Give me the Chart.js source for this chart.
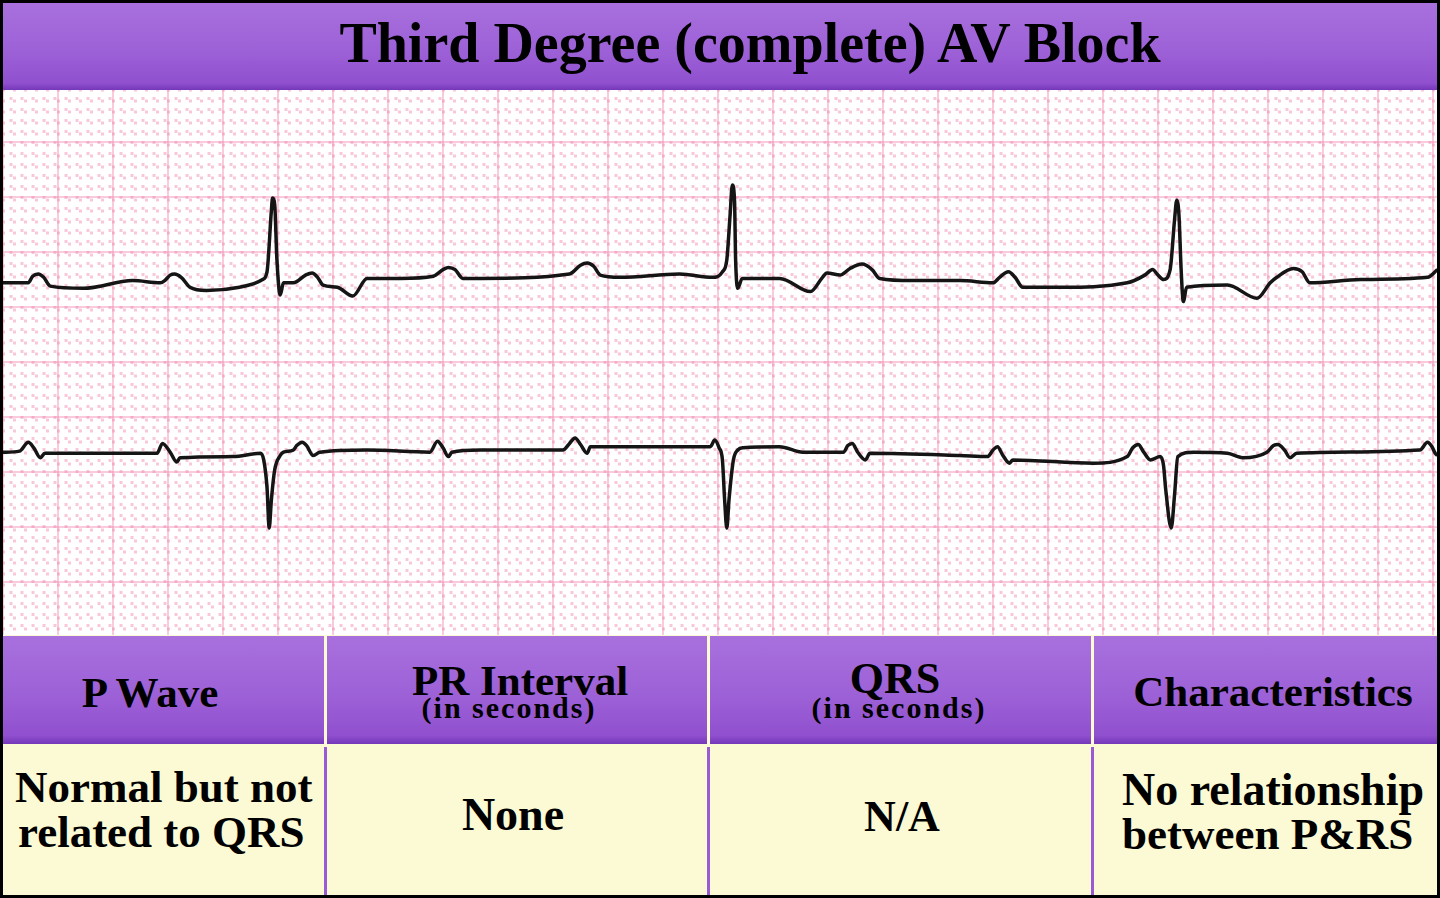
<!DOCTYPE html>
<html>
<head>
<meta charset="utf-8">
<script src="https://cdn.jsdelivr.net/npm/chart.js@4.4.1/dist/chart.umd.min.js"></script>
<style>
  html, body { margin:0; padding:0; }
  body { width:1440px; height:898px; background:#000; position:relative; overflow:hidden;
         font-family:"Liberation Serif", "Times New Roman", serif; font-weight:bold; color:#000; }
  .band { position:absolute; background:linear-gradient(to bottom, #a870dd 0%, #9d61d7 55%, #9050cf 92%, #7538b9 100%); }
  .cream { position:absolute; background:#fcfad4; }
  .txt { position:absolute; white-space:nowrap; line-height:1; }
  #strip { position:absolute; left:3px; top:90px; background:#fff; }
</style>
</head>
<body>
<div class="band" style="left:3px;top:3px;width:1434px;height:87px;"></div>
<div class="txt" style="left:3px;width:1434px;text-align:center;top:15px;font-size:56px;padding-left:60px;box-sizing:border-box;">Third Degree (complete) AV Block</div>

<canvas id="strip" width="1434" height="545"></canvas>

<!-- table -->
<div class="cream" style="left:3px;top:635px;width:1434px;height:260px;"></div>
<div class="band" style="left:3px;top:636px;width:321px;height:108px;"></div>
<div class="band" style="left:327px;top:636px;width:380px;height:108px;"></div>
<div class="band" style="left:710px;top:636px;width:381px;height:108px;"></div>
<div class="band" style="left:1094px;top:636px;width:343px;height:108px;"></div>
<div style="position:absolute;left:324px;top:747px;width:3px;height:148px;background:#9a5ad3;"></div>
<div style="position:absolute;left:707px;top:747px;width:3px;height:148px;background:#9a5ad3;"></div>
<div style="position:absolute;left:1091px;top:747px;width:3px;height:148px;background:#9a5ad3;"></div>

<div class="txt" style="left:50px;width:200px;text-align:center;top:671px;font-size:43px;">P Wave</div>
<div class="txt" style="left:412px;width:200px;text-align:center;top:659px;font-size:43px;">PR Interval</div>
<div class="txt" style="left:409px;width:200px;text-align:center;top:693px;font-size:30px;letter-spacing:2px;">(in seconds)</div>
<div class="txt" style="left:795px;width:200px;text-align:center;top:657px;font-size:44px;">QRS</div>
<div class="txt" style="left:799px;width:200px;text-align:center;top:693px;font-size:30px;letter-spacing:2px;">(in seconds)</div>
<div class="txt" style="left:1123px;width:300px;text-align:center;top:670px;font-size:43px;">Characteristics</div>

<div class="txt" style="left:15px;top:765px;font-size:45px;">Normal but not</div>
<div class="txt" style="left:18px;top:810px;font-size:45px;">related to QRS</div>
<div class="txt" style="left:413px;width:200px;text-align:center;top:792px;font-size:46px;">None</div>
<div class="txt" style="left:802px;width:200px;text-align:center;top:795px;font-size:44px;">N/A</div>
<div class="txt" style="left:1122px;top:767px;font-size:46px;">No relationship</div>
<div class="txt" style="left:1122px;top:812px;font-size:45px;">between P&amp;RS</div>

<script>
// ECG paper units: x = mm along the strip (25 mm/s), y = mm up the paper (10 mm/mV)
const paperLeft = 0, paperRight = 130.36;
const paperBottom = -4.82, paperTop = 44.73;

// upper lead: upright QRS, inverted T
const upperLead = [
  [0,27.2],[2.3,27.2],[2.7,27.8],[3.2,28.0],[3.7,27.7],[4.3,26.9],[7.3,26.7],[11.8,27.4],
  [14.3,27.2],[14.7,27.4],[15.2,27.9],[15.6,28.0],[16.2,27.7],[17.0,26.8],[18.5,26.5],[21.5,26.8],
  [23.6,27.5],[24.0,28.2],[24.4,33.8],[24.5,34.9],[24.7,34.3],[24.9,29.3],[25.2,26.1],[25.5,27.2],
  [26.4,27.2],[27.5,27.9],[28.1,28.1],[28.6,27.7],[29.1,27.0],[30.4,26.8],[31.8,26.0],[33.1,27.6],
  [36.1,27.6],[39.1,27.8],[40.0,28.4],[40.5,28.6],[41.1,28.4],[41.8,27.6],[43.4,27.6],
  [51.5,28.0],[52.5,28.8],[53.1,29.0],[53.7,28.7],[54.3,27.9],[56.1,27.7],[61.5,28.0],[64.5,27.7],
  [65.4,28.2],[65.8,29.3],[66.1,33.4],[66.3,36.1],[66.5,34.7],[66.6,29.3],[66.8,26.7],[67.2,27.6],
  [70.6,27.6],[73.4,26.4],[74.5,27.7],[74.9,28.1],[76.1,27.9],[77.0,28.5],[78.1,28.9],[79.0,28.4],
  [79.7,27.6],[82.7,27.4],[87.0,27.4],[90.0,27.2],[90.6,27.7],[91.4,28.2],[92.0,27.7],[92.7,26.8],
  [96.1,26.8],[102.2,27.2],[103.8,27.9],[104.5,28.4],[105.0,27.9],[105.5,27.5],[106.1,28.4],
  [106.5,32.9],[106.7,34.7],[106.9,33.4],[107.1,28.4],[107.3,25.5],[107.6,26.8],[111.3,27.0],
  [114.0,25.8],[115.2,27.2],[115.8,27.7],[117.3,28.5],[118.1,28.2],[118.8,27.2],[123.4,27.5],
  [129.5,27.7],[130.4,28.4]
];

// lower lead: negative QRS
const lowerLead = [
  [0,11.8],[1.5,11.9],[2.3,12.7],[2.8,12.2],[3.4,11.3],[3.8,11.7],[8.8,11.7],[14.0,11.7],
  [14.5,12.6],[15.2,11.8],[15.8,10.9],[16.1,11.3],[20.9,11.4],[23.4,11.7],[23.7,11.1],[24.0,8.6],
  [24.2,4.9],[24.4,7.5],[24.7,10.2],[25.2,11.5],[25.5,11.8],[26.4,12.0],[26.7,12.4],[27.2,12.7],
  [27.6,12.4],[28.2,11.5],[28.8,11.8],[33.1,12.0],[38.8,11.8],[39.5,12.8],[40.0,12.2],[40.5,11.4],
  [40.8,11.8],[43.4,12.0],[50.9,12.0],[51.5,12.6],[52.0,13.1],[52.5,12.5],[53.1,11.7],[53.4,12.3],
  [64.3,12.3],[64.7,12.9],[65.1,12.2],[65.4,11.1],[65.6,7.5],[65.8,4.9],[66.0,7.5],[66.4,11.1],
  [66.8,12.0],[67.3,12.2],[70.6,12.3],[72.7,11.8],[76.4,11.8],[76.8,12.4],[77.2,12.6],[77.7,11.8],
  [78.4,11.1],[78.8,11.7],[87.0,11.5],[89.5,11.4],[90.0,12.0],[90.4,12.3],[90.9,11.5],[91.5,10.8],
  [91.8,11.1],[99.1,10.8],[102.2,11.4],[102.7,12.2],[103.2,12.5],[103.7,11.8],[104.3,11.1],
  [105.2,11.4],[105.5,10.6],[105.7,8.4],[106.2,4.9],[106.5,7.9],[106.8,11.4],[108.2,11.8],
  [111.3,11.7],[112.7,11.3],[114.9,11.8],[115.5,12.4],[115.9,12.5],[116.5,12.0],[117.0,11.3],
  [117.6,11.7],[128.8,12.0],[129.5,12.7],[129.9,12.3],[130.2,11.7],[130.4,11.5]
];

const majorColor = 'rgba(240,130,172,0.42)';
const minorColor = 'rgba(240,130,172,0.45)';

function toPoints(arr) { return arr.map(p => ({x: p[0], y: p[1]})); }

function paperAxis(axis, step, color, width, dash, dashOffset) {
  return {
    type: 'linear', axis: axis,
    position: axis === 'x' ? 'bottom' : 'left',
    min: axis === 'x' ? paperLeft : paperBottom,
    max: axis === 'x' ? paperRight : paperTop,
    ticks: { display: false, stepSize: step, includeBounds: false },
    grid: { color: color, lineWidth: width, drawTicks: false },
    border: { display: false, dash: dash, dashOffset: dashOffset }
  };
}

const ctx = document.getElementById('strip');
new Chart(ctx, {
  type: 'line',
  data: {
    datasets: [
      { data: toPoints(upperLead), borderColor: '#151515', borderWidth: 3.5, pointRadius: 0,
        cubicInterpolationMode: 'monotone', xAxisID: 'x', yAxisID: 'y' },
      { data: toPoints(lowerLead), borderColor: '#151515', borderWidth: 3.5, pointRadius: 0,
        cubicInterpolationMode: 'monotone', xAxisID: 'x', yAxisID: 'y' }
    ]
  },
  options: {
    responsive: false,
    animation: false,
    layout: { padding: 0 },
    plugins: { legend: { display: false }, tooltip: { enabled: false } },
    scales: {
      xMinor: paperAxis('x', 1, minorColor, 3, [3, 8], 1.5),
      yMinor: paperAxis('y', 1, minorColor, 3, [3, 8], 4.5),
      x: paperAxis('x', 5, majorColor, 2, [], 0),
      y: paperAxis('y', 5, majorColor, 2, [], 0)
    }
  }
});
</script>
</body>
</html>
